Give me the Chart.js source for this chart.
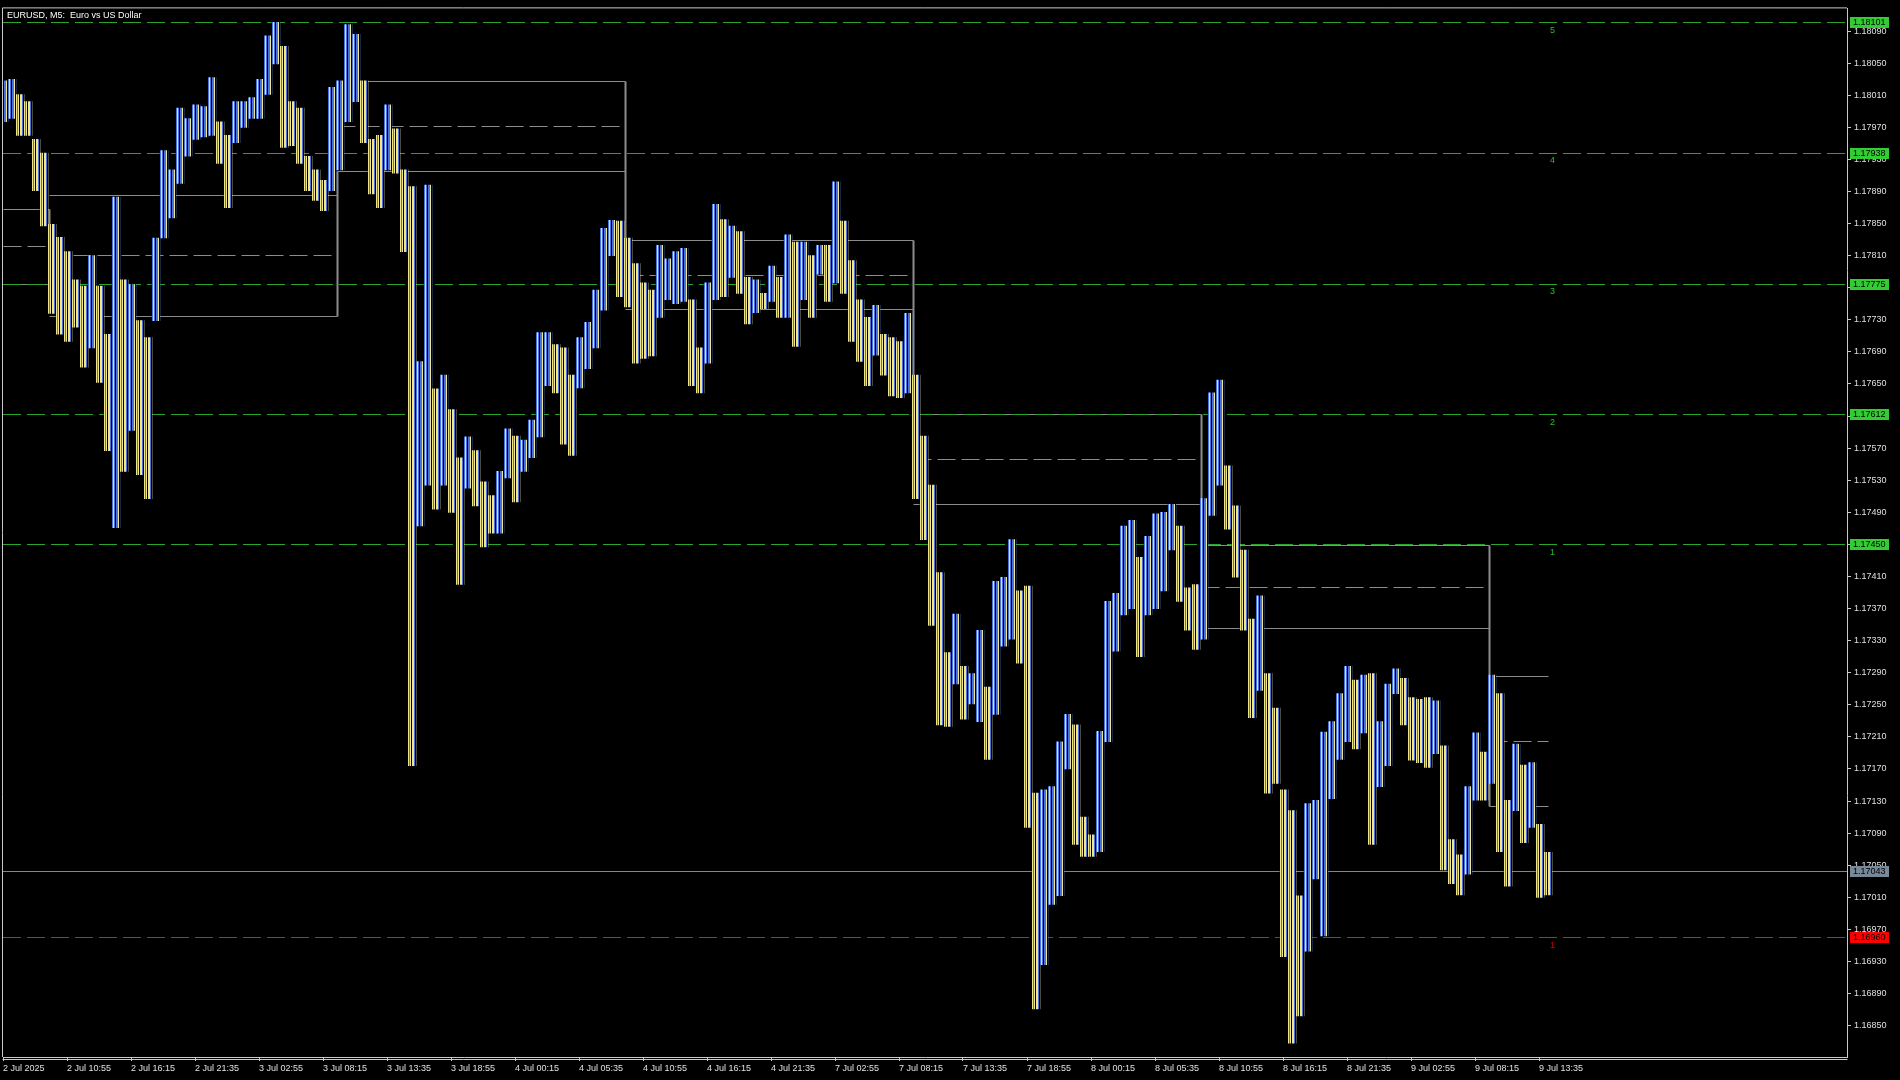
<!DOCTYPE html>
<html>
<head>
<meta charset="utf-8">
<title>EURUSD M5</title>
<script src="https://cdn.jsdelivr.net/npm/chart.js@4.4.1/dist/chart.umd.min.js"></script>
<style>
  html, body { margin: 0; padding: 0; background: #000; }
  #wrap { width: 1900px; height: 1080px; }
</style>
</head>
<body>
<div id="wrap"><canvas id="eurusd" width="1900" height="1080"></canvas></div>
<script>
// EURUSD M5, high/low in 40 minute steps (8 bars)
var barsPerGroup = 8;
var groupHigh = [
  1.18028,1.18030,1.18011,1.18002,1.17955,1.17938,1.17849,1.17833,1.17815,1.17780,
  1.17772,1.17810,1.17772,1.17712,1.17883,1.17780,1.17774,1.17729,1.17708,1.17832,
  1.17941,1.17917,1.17994,1.17981,1.17998,1.17996,1.18032,1.17977,1.17960,1.18002,
  1.18002,1.18007,1.18030,1.18084,1.18101,1.18071,1.18002,1.17994,1.17934,1.17917,
  1.17904,1.18020,1.18028,1.18098,1.18086,1.18028,1.17955,1.17960,1.17998,1.17968,
  1.17917,1.17896,1.17678,1.17898,1.17644,1.17661,1.17618,1.17558,1.17584,1.17567,
  1.17528,1.17511,1.17541,1.17594,1.17585,1.17580,1.17605,1.17714,1.17714,1.17699,
  1.17695,1.17661,1.17708,1.17727,1.17767,1.17844,1.17854,1.17853,1.17832,1.17800,
  1.17776,1.17767,1.17823,1.17806,1.17815,1.17819,1.17755,1.17695,1.17776,1.17874,
  1.17855,1.17847,1.17840,1.17783,1.17780,1.17763,1.17797,1.17783,1.17836,1.17827,
  1.17827,1.17810,1.17823,1.17823,1.17902,1.17853,1.17804,1.17755,1.17733,1.17748,
  1.17712,1.17708,1.17703,1.17738,1.17661,1.17585,1.17524,1.17415,1.17315,1.17363,
  1.17298,1.17289,1.17343,1.17272,1.17404,1.17409,1.17456,1.17392,1.17398,1.17140,
  1.17144,1.17148,1.17204,1.17238,1.17225,1.17110,1.17088,1.17217,1.17379,1.17389,
  1.17473,1.17480,1.17434,1.17460,1.17488,1.17490,1.17500,1.17473,1.17396,1.17400,
  1.17507,1.17639,1.17655,1.17548,1.17498,1.17443,1.17357,1.17386,1.17289,1.17246,
  1.17144,1.17118,1.17012,1.17127,1.17131,1.17216,1.17229,1.17264,1.17298,1.17281,
  1.17287,1.17289,1.17229,1.17276,1.17295,1.17283,1.17259,1.17257,1.17259,1.17255,
  1.17199,1.17082,1.17063,1.17148,1.17215,1.17191,1.17287,1.17264,1.17131,1.17201,
  1.17175,1.17178,1.17101,1.17066
];
var groupLow = [
  1.17977,1.17981,1.17960,1.17960,1.17891,1.17847,1.17738,1.17712,1.17703,1.17721,
  1.17671,1.17695,1.17652,1.17567,1.17471,1.17541,1.17592,1.17537,1.17507,1.17729,
  1.17832,1.17857,1.17900,1.17934,1.17955,1.17958,1.17960,1.17925,1.17870,1.17951,
  1.17970,1.17981,1.17981,1.18011,1.18049,1.17945,1.17947,1.17925,1.17891,1.17879,
  1.17866,1.17891,1.17917,1.17977,1.18002,1.17951,1.17887,1.17870,1.17917,1.17913,
  1.17815,1.17174,1.17473,1.17524,1.17494,1.17524,1.17490,1.17400,1.17520,1.17498,
  1.17447,1.17464,1.17464,1.17533,1.17503,1.17541,1.17558,1.17584,1.17648,1.17639,
  1.17575,1.17561,1.17645,1.17669,1.17695,1.17742,1.17810,1.17759,1.17746,1.17676,
  1.17682,1.17685,1.17733,1.17755,1.17750,1.17753,1.17648,1.17639,1.17676,1.17755,
  1.17759,1.17783,1.17763,1.17725,1.17739,1.17744,1.17753,1.17733,1.17733,1.17697,
  1.17755,1.17733,1.17787,1.17753,1.17776,1.17763,1.17703,1.17678,1.17648,1.17686,
  1.17661,1.17635,1.17633,1.17639,1.17507,1.17456,1.17349,1.17225,1.17223,1.17276,
  1.17232,1.17251,1.17229,1.17182,1.17238,1.17323,1.17332,1.17302,1.17097,1.16871,
  1.16926,1.17001,1.17012,1.17170,1.17076,1.17061,1.17061,1.17067,1.17204,1.17317,
  1.17362,1.17370,1.17310,1.17362,1.17370,1.17392,1.17443,1.17379,1.17343,1.17319,
  1.17332,1.17486,1.17524,1.17469,1.17409,1.17343,1.17234,1.17268,1.17140,1.17152,
  1.16936,1.16828,1.16862,1.16943,1.17033,1.16962,1.17133,1.17182,1.17204,1.17195,
  1.17215,1.17076,1.17148,1.17174,1.17264,1.17225,1.17181,1.17178,1.17172,1.17189,
  1.17044,1.17027,1.17013,1.17039,1.17131,1.17131,1.17152,1.17067,1.17024,1.17118,
  1.17078,1.17097,1.17010,1.17013
];

// axis labels
var priceTicks = [
  1.16850,1.16890,1.16930,1.16970,1.17010,1.17050,1.17090,1.17130,1.17170,1.17210,
  1.17250,1.17290,1.17330,1.17370,1.17410,1.17450,1.17490,1.17530,1.17570,1.17610,
  1.17650,1.17690,1.17730,1.17770,1.17810,1.17850,1.17890,1.17930,1.17970,1.18010,
  1.18050,1.18090
];
var timeLabels = [
  "2 Jul 2025","2 Jul 10:55","2 Jul 16:15","2 Jul 21:35","3 Jul 02:55","3 Jul 08:15",
  "3 Jul 13:35","3 Jul 18:55","4 Jul 00:15","4 Jul 05:35","4 Jul 10:55","4 Jul 16:15",
  "4 Jul 21:35","7 Jul 02:55","7 Jul 08:15","7 Jul 13:35","7 Jul 18:55","8 Jul 00:15",
  "8 Jul 05:35","8 Jul 10:55","8 Jul 16:15","8 Jul 21:35","9 Jul 02:55","9 Jul 08:15",
  "9 Jul 13:35"
];
var barsPerLabel = 64;

// horizontal levels
var levelPrices = [1.18101, 1.17938, 1.17775, 1.17612, 1.17450, 1.16960];
var levelNames  = ["5", "4", "3", "2", "1", "1"];
var levelKinds  = ["up", "up", "up", "up", "up", "down"];
var bidPrice = 1.17043;

// daily range boxes (bar index, price)
var boxStart = [0, 46, 334, 622, 910, 1198, 1486];
var boxEnd   = [46, 334, 622, 910, 1198, 1486, 1545];
var boxHigh  = [1.17868, 1.17886, 1.18028, 1.17829, 1.17612, 1.17449, 1.17286];
var boxLow   = [1.17775, 1.17735, 1.17916, 1.17744, 1.17501, 1.17346, 1.17124];
var edgeHigh = [1.17868, 1.17916, 1.18028, 1.17829, 1.17612, 1.17449, null];
var edgeLow  = [1.17775, 1.17735, 1.17829, 1.17612, 1.17348, 1.17124, null];

var BLUE = '#4a72dc', YELLOW = '#eee48c', AXIS = '#c8c8c8', BOXC = '#8c8c8c';
var GREEN = '#2aa52a', TAGGREEN = '#32cd32', RED = '#e01818', TAGRED = '#ff0000', BIDC = '#778899';
var FONT = 'Liberation Sans, Arial, sans-serif';

function stripes(cols) {
  var c = document.createElement('canvas');
  c.width = cols.length; c.height = 1;
  var g = c.getContext('2d');
  cols.forEach(function (col, i) { g.fillStyle = col; g.fillRect(i, 0, 1, 1); });
  return g.createPattern(c, 'repeat');
}
var upFill = stripes([BLUE, YELLOW, BLUE, '#000', BLUE, BLUE, YELLOW, '#000']);
var downFill = stripes([YELLOW, BLUE, YELLOW, '#000', YELLOW, YELLOW, BLUE, '#000']);

var groups = groupHigh.map(function (h, k) {
  return { x: k * barsPerGroup + 1, y: [groupLow[k], h] };
});
var fills = groupHigh.map(function (h, k) {
  var mid = (h + groupLow[k]) / 2;
  var j = k === 0 ? 1 : k - 1;
  var other = (groupHigh[j] + groupLow[j]) / 2;
  var up = k === 0 ? other > mid : mid > other;
  return up ? upFill : downFill;
});

var overlay = {
  id: 'overlay',
  beforeDatasetsDraw: function (chart) {
    var c = chart.ctx, a = chart.chartArea, xs = chart.scales.x, ys = chart.scales.y;
    var px = function (v) { return Math.round(xs.getPixelForValue(v)) + 0.5; };
    var py = function (v) { return Math.round(ys.getPixelForValue(v)) + 0.5; };
    c.save();
    c.beginPath(); c.rect(a.left, a.top, a.right - a.left, a.bottom - a.top); c.clip();
    c.strokeStyle = BOXC; c.lineWidth = 1;
    for (var i = 0; i < boxStart.length; i++) {
      var x0 = px(boxStart[i]), x1 = px(boxEnd[i]);
      var yt = py(boxHigh[i]), yb = py(boxLow[i]), ym = py((boxHigh[i] + boxLow[i]) / 2);
      c.setLineDash([]);
      c.beginPath(); c.moveTo(x0, yt); c.lineTo(x1, yt); c.moveTo(x0, yb); c.lineTo(x1, yb); c.stroke();
      c.setLineDash([18, 6]);
      c.beginPath(); c.moveTo(x0, ym); c.lineTo(x1, ym); c.stroke();
      if (edgeHigh[i] !== null) {
        c.setLineDash([]); c.lineWidth = 2;
        c.beginPath(); c.moveTo(x1, py(edgeHigh[i])); c.lineTo(x1, py(edgeLow[i])); c.stroke();
        c.lineWidth = 1;
      }
    }
    // bid line
    c.setLineDash([]); c.strokeStyle = BIDC;
    c.beginPath(); c.moveTo(a.left, py(bidPrice)); c.lineTo(a.right, py(bidPrice)); c.stroke();
    // levels
    c.setLineDash([18, 6]);
    levelPrices.forEach(function (p, i) {
      c.strokeStyle = levelKinds[i] === 'up' ? GREEN : RED;
      c.beginPath(); c.moveTo(a.left, py(p)); c.lineTo(a.right, py(p)); c.stroke();
    });
    c.restore();
  },
  afterDraw: function (chart) {
    var c = chart.ctx, a = chart.chartArea, xs = chart.scales.x, ys = chart.scales.y;
    c.save();
    // frame
    c.strokeStyle = AXIS; c.lineWidth = 1;
    c.beginPath();
    c.moveTo(a.left - 0.5, a.bottom); c.lineTo(a.left - 0.5, a.top - 0.5); c.lineTo(a.right, a.top - 0.5);
    c.moveTo(a.left - 0.5, a.bottom + 2.5); c.lineTo(a.right + 0.5, a.bottom + 2.5);
    c.stroke();
    // title
    c.fillStyle = '#ffffff'; c.font = '9px ' + FONT; c.textBaseline = 'middle'; c.textAlign = 'left';
    c.fillText('EURUSD, M5:  Euro vs US Dollar', a.left + 4, a.top + 7);
    // level numbers next to the last bar
    var lx = xs.getPixelForValue(groups[groups.length - 1].x + 2);
    levelPrices.forEach(function (p, i) {
      c.fillStyle = levelKinds[i] === 'up' ? '#2fb82f' : '#d00000';
      c.fillText(levelNames[i], lx, ys.getPixelForValue(p) + 8);
    });
    // price tags on the axis
    var tag = function (p, bg) {
      var y = Math.round(ys.getPixelForValue(p));
      c.fillStyle = bg; c.fillRect(a.right + 3, y - 5, 39, 11);
      c.fillStyle = '#000'; c.fillText(p.toFixed(5), a.right + 6, y + 0.5);
    };
    levelPrices.forEach(function (p, i) { tag(p, levelKinds[i] === 'up' ? TAGGREEN : TAGRED); });
    tag(bidPrice, BIDC);
    c.restore();
  }
};

new Chart(document.getElementById('eurusd').getContext('2d'), {
  type: 'bar',
  data: {
    datasets: [{
      label: 'EURUSD',
      data: groups,
      backgroundColor: fills,
      borderWidth: 0,
      barThickness: 8,
      grouped: false
    }]
  },
  options: {
    responsive: false,
    animation: false,
    devicePixelRatio: 1,
    events: [],
    layout: { padding: { left: 3, top: 3, right: 0, bottom: 0 } },
    plugins: { legend: { display: false }, tooltip: { enabled: false } },
    scales: {
      x: {
        type: 'linear', min: 0, max: 1844, offset: false,
        afterBuildTicks: function (axis) {
          axis.ticks = timeLabels.map(function (t, i) { return { value: i * barsPerLabel }; });
        },
        afterFit: function (axis) { axis.height = 23; },
        ticks: {
          color: '#e0e0e0', font: { family: FONT, size: 9 }, align: 'start',
          maxRotation: 0, autoSkip: false, padding: 2,
          callback: function (v, i) { return timeLabels[i]; }
        },
        grid: { drawOnChartArea: false, offset: false, tickLength: 4, color: AXIS },
        border: { color: AXIS }
      },
      y: {
        type: 'linear', position: 'right', min: 1.168109, max: 1.181183,
        afterBuildTicks: function (axis) {
          axis.ticks = priceTicks.map(function (v) { return { value: v }; });
        },
        afterFit: function (axis) { axis.width = 53; },
        ticks: {
          color: '#e0e0e0', font: { family: FONT, size: 9 }, autoSkip: false, padding: 3,
          callback: function (v) { return Number(v).toFixed(5); }
        },
        grid: { drawOnChartArea: false, tickLength: 4, color: AXIS },
        border: { color: AXIS }
      }
    }
  },
  plugins: [overlay]
});
</script>
</body>
</html>
